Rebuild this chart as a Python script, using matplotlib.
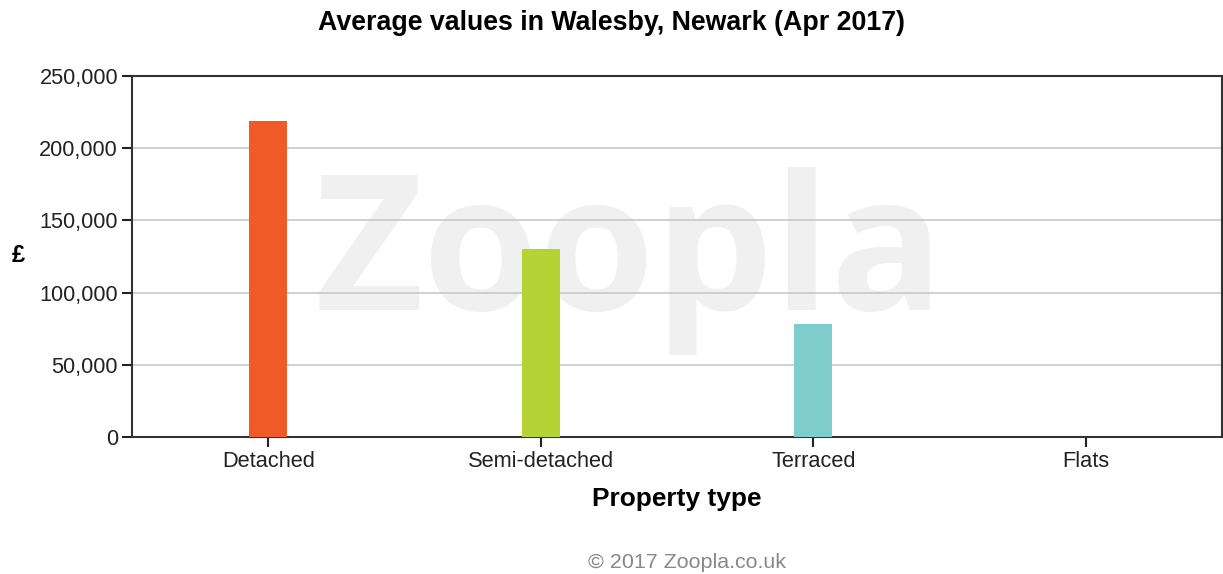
import matplotlib.pyplot as plt
from matplotlib.ticker import FuncFormatter

plt.rcParams['font.family'] = ['Liberation Sans', 'DejaVu Sans']

categories = ["Detached", "Semi-detached", "Terraced", "Flats"]
values = [219000, 130000, 78500, 0]
colors = ["#f05a28", "#b5d334", "#7ecdcc", "#999999"]
yticks = [0, 50000, 100000, 150000, 200000, 250000]

fig = plt.figure(figsize=(12.23, 5.74), dpi=100)
ax = fig.add_axes([132 / 1223, 1 - 437 / 574, 1090 / 1223, 361 / 574])

# watermark
ax.text(0.456, 0.352, "Zoopla", transform=ax.transAxes, ha="center", va="baseline",
        fontsize=135, color="#f0f0f0", fontweight="bold", family="Open Sans", zorder=0)

x = range(len(categories))
ax.bar(x, values, width=0.14, color=colors, zorder=3)

ax.set_xlim(-0.5, 3.5)
ax.set_ylim(0, 250000)
ax.set_yticks(yticks)
ax.yaxis.set_major_formatter(FuncFormatter(lambda v, p: f"{int(v):,}"))
ax.set_xticks(list(x))
ax.set_xticklabels(categories)
ax.grid(axis="y", color="#c8c8c8", linewidth=1.2, zorder=1)
ax.set_axisbelow(True)
for s in ax.spines.values():
    s.set_color("#333333")
    s.set_linewidth(1.5)
ax.tick_params(axis="both", labelsize=15.7, colors="#222222", length=7, width=1.5,
               direction="out", pad=3)

ax.set_xlabel("Property type", fontsize=18.9, fontweight="bold", labelpad=11)
fig.text(18 / 1223, 1 - 256 / 574, "£", fontsize=17, fontweight="bold",
         ha="center", va="center")
fig.suptitle("Average values in Walesby, Newark (Apr 2017)", x=611 / 1223,
             y=1 - 23 / 574, va="center", fontsize=19.3, fontweight="bold")
fig.text(687 / 1223, 1 - 562 / 574, "© 2017 Zoopla.co.uk", fontsize=15.4,
         color="#888888", ha="center", va="center")

fig.savefig("out.png", dpi=100)
